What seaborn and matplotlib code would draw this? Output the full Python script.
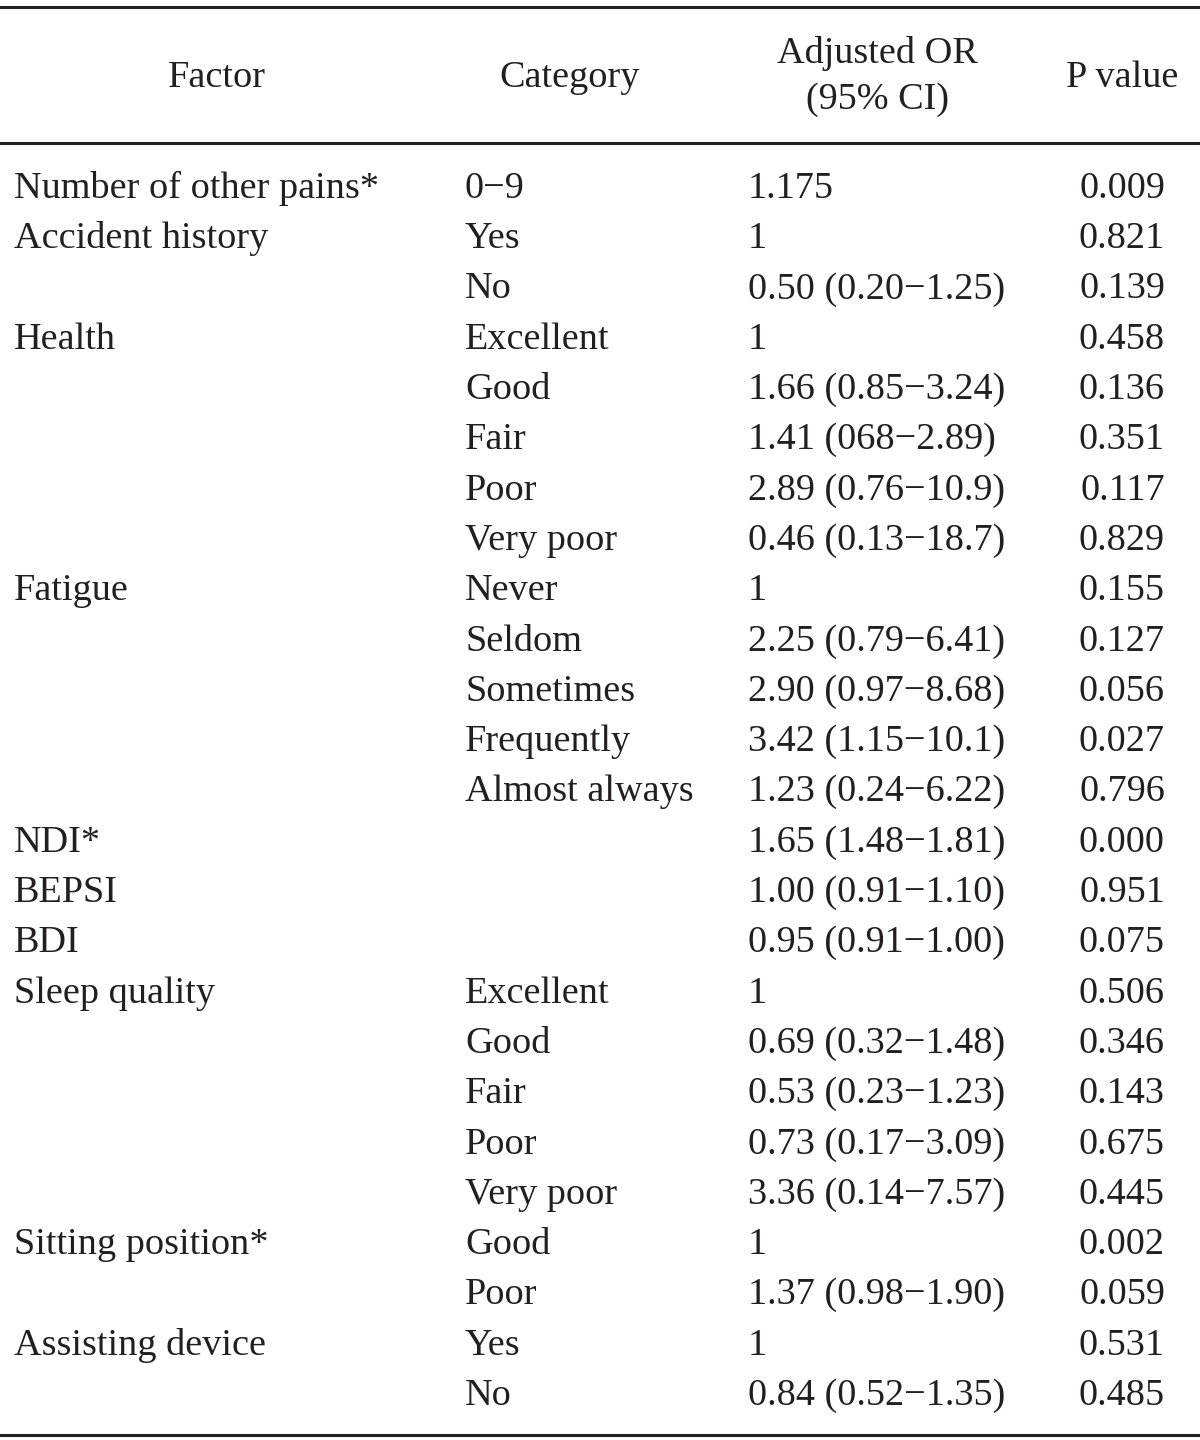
import matplotlib

matplotlib.use("Agg")
import matplotlib.pyplot as plt
import seaborn as sns

# table contents, one entry per row
factors = [
    "Number of other pains*", "Accident history", "", "Health", "", "", "", "",
    "Fatigue", "", "", "", "", "NDI*", "BEPSI", "BDI", "Sleep quality", "", "", "", "",
    "Sitting position*", "", "Assisting device", "",
]
categories = [
    "0\u22129", "Yes", "No", "Excellent", "Good", "Fair", "Poor", "Very poor",
    "Never", "Seldom", "Sometimes", "Frequently", "Almost always", "", "", "",
    "Excellent", "Good", "Fair", "Poor", "Very poor", "Good", "Poor", "Yes", "No",
]
odds_ratios = [
    "1.175", "1", "0.50 (0.20\u22121.25)", "1", "1.66 (0.85\u22123.24)",
    "1.41 (068\u22122.89)", "2.89 (0.76\u221210.9)", "0.46 (0.13\u221218.7)",
    "1", "2.25 (0.79\u22126.41)", "2.90 (0.97\u22128.68)", "3.42 (1.15\u221210.1)",
    "1.23 (0.24\u22126.22)", "1.65 (1.48\u22121.81)", "1.00 (0.91\u22121.10)",
    "0.95 (0.91\u22121.00)", "1", "0.69 (0.32\u22121.48)", "0.53 (0.23\u22121.23)",
    "0.73 (0.17\u22123.09)", "3.36 (0.14\u22127.57)", "1", "1.37 (0.98\u22121.90)",
    "1", "0.84 (0.52\u22121.35)",
]
p_values = [
    "0.009", "0.821", "0.139", "0.458", "0.136", "0.351", "0.117", "0.829",
    "0.155", "0.127", "0.056", "0.027", "0.796", "0.000", "0.951", "0.075",
    "0.506", "0.346", "0.143", "0.675", "0.445", "0.002", "0.059", "0.531", "0.485",
]
headers = ["Factor", "Category", "Adjusted OR\n(95% CI)", "P value"]

sns.set_theme(style="white")
plt.rcParams["font.family"] = ["Liberation Serif", "DejaVu Serif"]

ink = "#231f20"
fs = 27.5

fig = plt.figure(figsize=(12, 14.4), dpi=100)
ax = fig.add_axes([0, 0, 1, 1])
ax.set_xlim(0, 1200)
ax.set_ylim(24.93, -3.70)
ax.axis("off")

# header
ax.text(217, -2.16, headers[0], ha="center", va="center", fontsize=fs, color=ink)
ax.text(570, -2.16, headers[1], ha="center", va="center", fontsize=fs, color=ink)
ax.text(877, -2.18, headers[2], ha="center", va="center", fontsize=fs, color=ink,
        linespacing=1.45)
ax.text(1122, -2.16, headers[3], ha="center", va="center", fontsize=fs, color=ink)

for i, (f, c, o, p) in enumerate(zip(factors, categories, odds_ratios, p_values)):
    y = i + 0.05
    ax.text(14, y, f, ha="left", va="center", fontsize=fs, color=ink)
    ax.text(465, y, c, ha="left", va="center", fontsize=fs, color=ink)
    ax.text(748, y, o, ha="left", va="center", fontsize=fs, color=ink)
    ax.text(1165, y, p, ha="right", va="center", fontsize=fs, color=ink)

for y in (-3.56, -0.855, 24.83):
    ax.axhline(y, color=ink, lw=2.2)

fig.savefig("out.png", dpi=100)
plt.close(fig)
